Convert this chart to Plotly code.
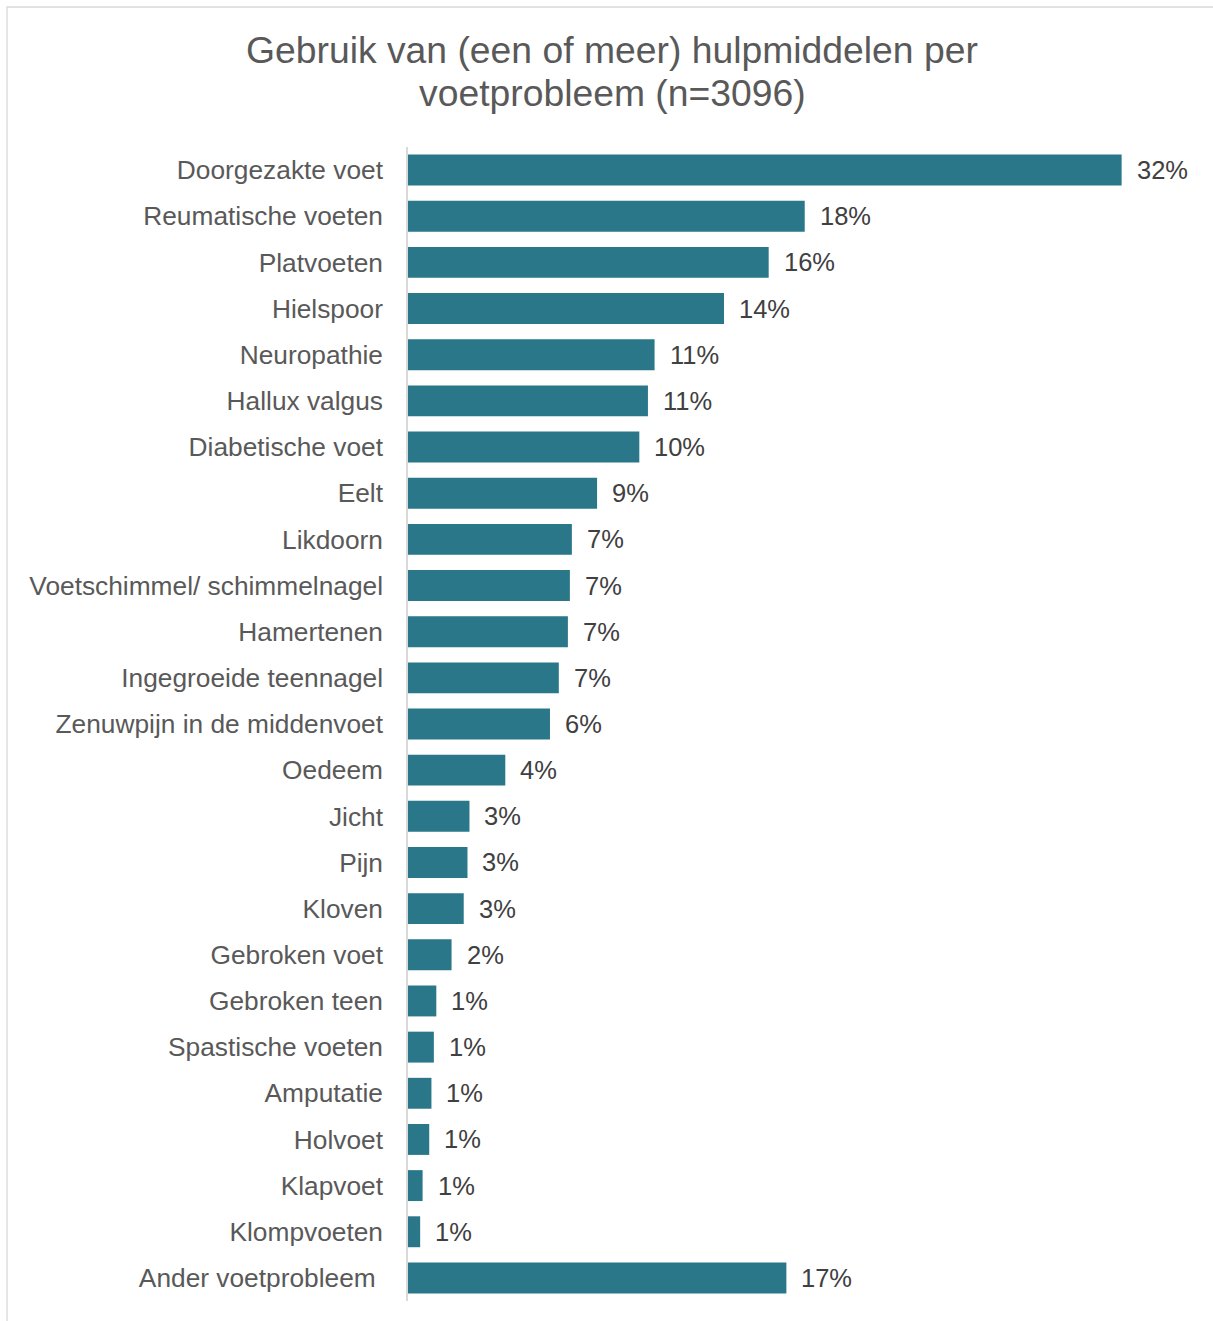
import plotly.graph_objects as go

# Share of respondents using one or more aids, per foot problem (%)
categories = [
    "Doorgezakte voet", "Reumatische voeten", "Platvoeten", "Hielspoor",
    "Neuropathie", "Hallux valgus", "Diabetische voet", "Eelt", "Likdoorn",
    "Voetschimmel/ schimmelnagel", "Hamertenen", "Ingegroeide teennagel",
    "Zenuwpijn in de middenvoet", "Oedeem", "Jicht", "Pijn", "Kloven",
    "Gebroken voet", "Gebroken teen", "Spastische voeten", "Amputatie",
    "Holvoet", "Klapvoet", "Klompvoeten", "Ander voetprobleem\u00a0",
]
values = [
    32.27, 17.94, 16.31, 14.29, 11.15, 10.85, 10.46, 8.55, 7.41, 7.32,
    7.23, 6.82, 6.42, 4.40, 2.78, 2.69, 2.52, 1.97, 1.28, 1.17, 1.06,
    0.96, 0.66, 0.55, 17.11,
]
title_lines = ["Gebruik van (een of meer) hulpmiddelen per", "voetprobleem (n=3096)"]

W, H = 1213, 1321
L, R, T, B = 408, 31, 147, 20
PW, PH = W - L - R, H - T - B

BAR = "#2A7789"
GRID = "#D9D9D9"
FONT = "Liberation Sans, Arial, sans-serif"


def px_x(px):
    return (px - L) / PW


def px_y(py):
    return (T + PH - py) / PH


fig = go.Figure(
    go.Bar(
        x=values,
        y=categories,
        orientation="h",
        marker=dict(color=BAR, line=dict(width=0)),
        hoverinfo="skip",
    )
)

# value labels to the right of each bar
for cat, val in zip(categories, values):
    fig.add_annotation(
        x=val, y=cat, xref="x", yref="y",
        text=f"{val:.0f}%", showarrow=False,
        xanchor="left", yanchor="middle", xshift=13,
        font=dict(family=FONT, size=25.5, color="#404040"),
    )

# chart title, two centred lines
for line, cy in zip(title_lines, [50, 93]):
    fig.add_annotation(
        x=px_x(612), y=px_y(cy), xref="paper", yref="paper",
        text=line, showarrow=False, xanchor="center", yanchor="middle",
        font=dict(family=FONT, size=37.3, color="#595959"),
    )

# light frame along the top and left edge
fig.add_shape(
    type="rect", xref="paper", yref="paper",
    x0=px_x(7), x1=px_x(W + 5), y0=px_y(H + 5), y1=px_y(7),
    line=dict(color=GRID, width=1.3), fillcolor="rgba(0,0,0,0)", layer="below",
)

fig.update_layout(
    width=W, height=H,
    margin=dict(l=L, r=R, t=T, b=B, pad=0),
    paper_bgcolor="white", plot_bgcolor="white",
    bargap=0.33,
    showlegend=False,
    xaxis=dict(
        range=[0, 35], visible=False, showgrid=False, zeroline=False, fixedrange=True,
    ),
    yaxis=dict(
        autorange="reversed",
        showline=True, linecolor=GRID, linewidth=1.5,
        ticks="outside", ticklen=18, tickcolor="rgba(0,0,0,0)",
        tickfont=dict(family=FONT, size=26.3, color="#595959"),
        showgrid=False, zeroline=False,
    ),
)

fig.write_html("out.html")
